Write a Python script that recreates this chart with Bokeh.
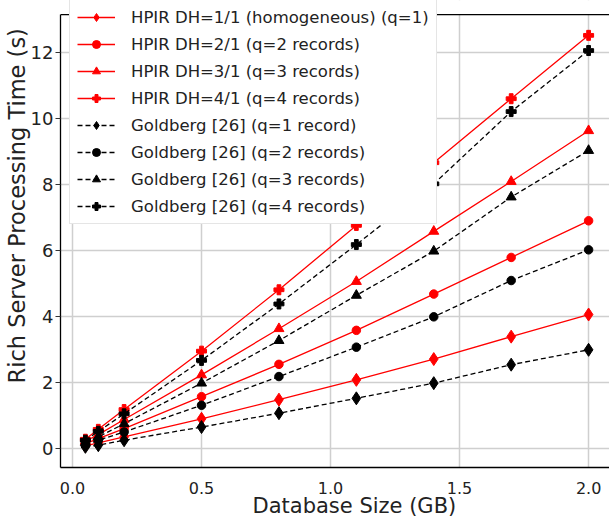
from bokeh.plotting import figure
from bokeh.models import Range1d, Legend, Span, BoxAnnotation, FixedTicker, NumeralTickFormatter, Title
from bokeh.embed import file_html
from bokeh.resources import INLINE

sizes_gb = [0.05, 0.1, 0.2, 0.5, 0.8, 1.1, 1.4, 1.7, 2.0]

hpir_q1 = [0.08, 0.17, 0.35, 0.90, 1.48, 2.08, 2.71, 3.39, 4.06]
hpir_q2 = [0.15, 0.30, 0.60, 1.57, 2.55, 3.58, 4.68, 5.79, 6.90]
hpir_q3 = [0.22, 0.42, 0.88, 2.23, 3.63, 5.06, 6.58, 8.09, 9.63]
hpir_q4 = [0.28, 0.58, 1.18, 2.95, 4.81, 6.76, 8.66, 10.60, 12.52]

gold_q1 = [0.05, 0.10, 0.25, 0.65, 1.07, 1.52, 1.98, 2.54, 2.99]
gold_q2 = [0.12, 0.25, 0.50, 1.31, 2.18, 3.07, 3.99, 5.09, 6.02]
gold_q3 = [0.18, 0.35, 0.75, 1.98, 3.27, 4.64, 5.98, 7.62, 9.03]
gold_q4 = [0.25, 0.52, 1.05, 2.67, 4.38, 6.18, 8.02, 10.21, 12.06]

labels = [
    "HPIR DH=1/1 (homogeneous) (q=1)",
    "HPIR DH=2/1 (q=2 records)",
    "HPIR DH=3/1 (q=3 records)",
    "HPIR DH=4/1 (q=4 records)",
    "Goldberg [26] (q=1 record)",
    "Goldberg [26] (q=2 records)",
    "Goldberg [26] (q=3 records)",
    "Goldberg [26] (q=4 records)",
]
x_label = "Database Size (GB)"
y_label = "Rich Server Processing Time (s)"
x_ticks = [0.0, 0.5, 1.0, 1.5, 2.0]
y_ticks = [0, 2, 4, 6, 8, 10, 12]

Y_TOP_AXIS = 13.15
p = figure(width=609, height=520, output_backend="svg", toolbar_location=None,
           x_range=Range1d(-0.0465, 2.081), y_range=Range1d(-0.576, 13.576),
           min_border_left=60, min_border_right=0, min_border_top=0, min_border_bottom=53)
p.outline_line_color = None
p.background_fill_color = "white"

for ax in (p.xaxis[0], p.yaxis[0]):
    ax.axis_line_color = "black"
    ax.axis_line_width = 1.3
    ax.major_label_text_font = "DejaVu Sans"
    ax.minor_tick_line_color = None
    ax.major_label_text_color = "#222222"

p.xaxis.ticker = FixedTicker(ticks=x_ticks)
p.xaxis.formatter = NumeralTickFormatter(format="0.0")
p.yaxis.ticker = FixedTicker(ticks=y_ticks)
p.yaxis.bounds = (-0.576, Y_TOP_AXIS)
p.xaxis.major_tick_out = 0
p.xaxis.major_tick_in = 0
p.xaxis.major_label_standoff = 14
p.xaxis.major_label_text_font_size = "16px"

p.add_layout(Title(text=x_label, align="left", offset=192, standoff=-9,
                   text_font="DejaVu Sans", text_font_size="21px",
                   text_font_style="normal", text_color="#222222"), "below")

p.yaxis.major_tick_out = 5
p.yaxis.major_tick_in = 0
p.yaxis.major_tick_line_color = "#333333"
p.yaxis.major_label_standoff = 2
p.yaxis.major_label_text_font_size = "18px"

p.add_layout(Title(text=y_label, align="left", offset=84, standoff=-4,
                   text_font="DejaVu Sans", text_font_size="22.5px",
                   text_font_style="normal", text_color="#222222"), "left")

p.grid.grid_line_color = "#cfcfcf"
p.grid.grid_line_width = 1.5

p.add_layout(BoxAnnotation(bottom=Y_TOP_AXIS, fill_color="white", fill_alpha=1.0,
                           line_color=None, level="underlay"))
p.add_layout(Span(location=Y_TOP_AXIS, dimension="width", line_color="black", line_width=1.3))

series = [
    (hpir_q1, "red", "solid", "diamond", 13),
    (hpir_q2, "red", "solid", "circle", 8.5),
    (hpir_q3, "red", "solid", "triangle", 10),
    (hpir_q4, "red", "solid", "plus", 10),
    (gold_q1, "black", "5 3", "diamond", 13),
    (gold_q2, "black", "5 3", "circle", 8.5),
    (gold_q3, "black", "5 3", "triangle", 10),
    (gold_q4, "black", "5 3", "plus", 10),
]

items = []
for (vals, color, dash, marker, size), lab in zip(series, labels):
    r1 = p.line(sizes_gb, vals, line_color=color, line_width=1.3, line_dash=dash)
    r2 = p.scatter(sizes_gb, vals, marker=marker, size=size,
                   fill_color=color, line_color=color)
    items.append((lab, [r1, r2]))

legend = Legend(items=items, location=(9, 243))
legend.label_text_font = "DejaVu Sans"
legend.label_text_font_size = "16.5px"
legend.label_text_color = "#222222"
legend.glyph_width = 38
legend.glyph_height = 20
legend.label_height = 20
legend.label_standoff = 16
legend.spacing = 7
legend.padding = 7
legend.margin = 0
legend.border_line_color = "#cccccc"
legend.border_line_width = 1
legend.background_fill_color = "white"
legend.background_fill_alpha = 1.0
p.add_layout(legend, "center")

open("out.html", "w").write(file_html(p, INLINE))
